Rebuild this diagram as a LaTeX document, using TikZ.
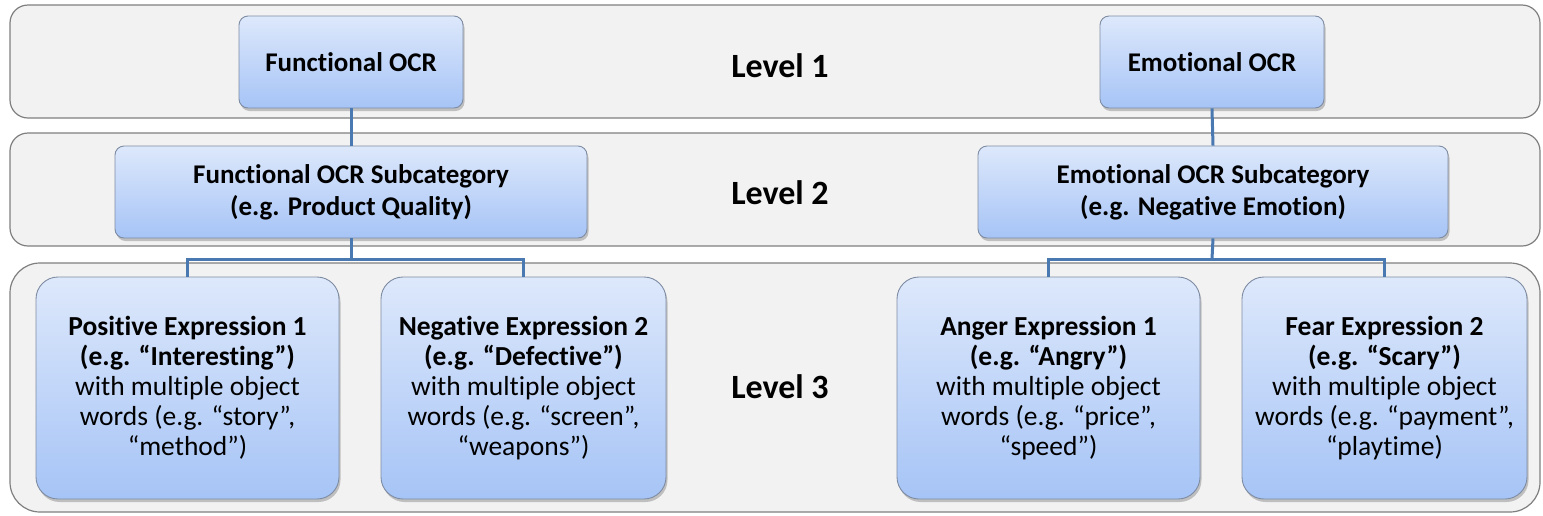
\documentclass[tikz,border=0pt]{standalone}
\usepackage{fontspec}
\setmainfont{Carlito}[Ligatures=NoCommon]
\usetikzlibrary{shadows}
\definecolor{bandfill}{HTML}{F2F2F2}
\definecolor{bandline}{HTML}{7F7F7F}
\definecolor{boxtop}{HTML}{DDE8FB}
\definecolor{boxbot}{HTML}{A6C4F6}
\definecolor{boxline}{HTML}{7E8CA3}
\definecolor{connc}{HTML}{4A78B0}
\begin{document}
\begin{tikzpicture}[x=1pt,y=-1pt,
  band/.style={draw=bandline, fill=bandfill, line width=1.2pt, rounded corners=18pt},
  box/.style={draw=boxline, line width=0.9pt, rounded corners=9pt, top color=boxtop, bottom color=boxbot,
    drop shadow={shadow xshift=1.5pt, shadow yshift=-3pt, opacity=0.3, fill=black!70},
    align=center, inner sep=0pt},
  small/.style={box, font=\fontsize{27}{32}\selectfont\bfseries},
  big/.style={box, rounded corners=22pt, font=\fontsize{27.5}{30}\selectfont},
  conn/.style={draw=connc, line width=3pt},
  lvl/.style={font=\fontsize{34}{38}\selectfont\bfseries}]
\useasboundingbox (0,0) rectangle (1543,515);
% bands
\draw[band] (10,5) rectangle (1540,118);
\draw[band] (10,133) rectangle (1540,246);
\draw[band, rounded corners=30pt] (10,263) rectangle (1540,512);
\coordinate (fj) at (351,259);
\coordinate (ej) at (1212,259);
% boxes
\node[small, minimum width=224pt, minimum height=92pt] (f1) at (351,62) {Functional OCR};
\node[small, minimum width=224pt, minimum height=92pt] (e1) at (1212,62) {Emotional OCR};
\node[small, minimum width=472pt, minimum height=92pt] (f2) at (351,192) {Functional OCR Subcategory\\(e.g. Product Quality)};
\node[small, minimum width=470pt, minimum height=92pt] (e2) at (1213,192) {Emotional OCR Subcategory\\(e.g. Negative Emotion)};
\node[big, minimum width=303pt, minimum height=222pt] (p1) at (187.5,388) {\textbf{Positive Expression 1}\\\textbf{(e.g. “Interesting”)}\\with multiple object\\words (e.g. “story”,\\“method”)};
\node[big, minimum width=285pt, minimum height=222pt] (n2) at (523.5,388) {\textbf{Negative Expression 2}\\\textbf{(e.g. “Defective”)}\\with multiple object\\words (e.g. “screen”,\\“weapons”)};
\node[big, minimum width=303pt, minimum height=222pt] (a1) at (1048.5,388) {\textbf{Anger Expression 1}\\\textbf{(e.g. “Angry”)}\\with multiple object\\words (e.g. “price”,\\“speed”)};
\node[big, minimum width=285pt, minimum height=222pt] (s2) at (1384.5,388) {\textbf{Fear Expression 2}\\\textbf{(e.g. “Scary”)}\\with multiple object\\words (e.g. “payment”,\\“playtime)};
% connectors
\draw[conn] (f1.south) -- (f2.north);
\draw[conn] (e1.south) -- (e2.north);
\draw[conn] (f2.south) -- (fj);
\draw[conn] (e2.south) -- (ej);
\draw[conn] (p1.north) |- (fj) -| (n2.north);
\draw[conn] (a1.north) |- (ej) -| (s2.north);
% level labels
\node[lvl] (l1) at (780,66) {Level 1};
\node[lvl] (l2) at (780,193) {Level 2};
\node[lvl] (l3) at (780,387) {Level 3};
\end{tikzpicture}
\end{document}
